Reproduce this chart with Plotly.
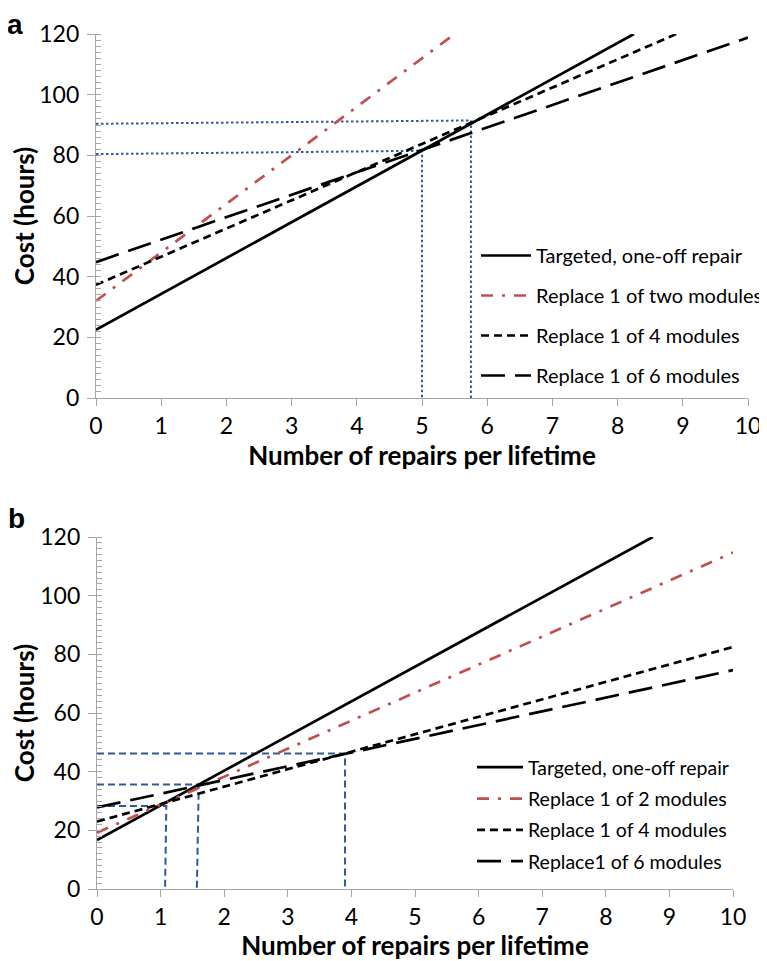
import plotly.graph_objects as go

# ---------------- Data ----------------
x_ticks = [0, 1, 2, 3, 4, 5, 6, 7, 8, 9, 10]
y_ticks = [0, 20, 40, 60, 80, 100, 120]

# Panel a
a_names = ["Targeted, one-off repair", "Replace 1 of two modules",
           "Replace 1 of 4 modules", "Replace 1 of 6 modules"]
a_targeted_x = [0, 8.25]
a_targeted_y = [22.5, 120]
a_two_x = [0, 5.5]
a_two_y = [32, 120]
a_four_x = [0, 8.9]
a_four_y = [37.3, 120]
a_six_x = [0, 10]
a_six_y = [44.8, 118.8]
# guide lines (blue dotted)
a_guide1_x = [0, 5.75, 5.75]
a_guide1_y = [90.4, 91.5, 0]
a_guide2_x = [0, 5.0, 5.0]
a_guide2_y = [80.4, 81.5, 0]

# Panel b
b_names = ["Targeted, one-off repair", "Replace 1 of 2 modules",
           "Replace 1 of 4 modules", "Replace1 of 6 modules"]
b_targeted_x = [0, 8.74]
b_targeted_y = [16.7, 120]
b_two_x = [0, 10]
b_two_y = [19.2, 114.7]
b_four_x = [0, 10]
b_four_y = [23.0, 82.5]
b_six_x = [0, 10]
b_six_y = [27.8, 74.6]
# guide lines (blue dashed)
b_guide1_x = [0, 3.9, 3.9]
b_guide1_y = [46.2, 46.2, 0]
b_guide2_x = [0, 1.6, 1.57]
b_guide2_y = [35.6, 35.6, 0]
b_guide3_x = [0, 1.09, 1.07]
b_guide3_y = [28.3, 28.3, 0]

# ---------------- Styles ----------------
FONT = "Lato"
BLACK = "#000000"
RED = "#C0504D"
BLUE = "#2E5A9C"
AXIS_GREY = "#A6A6A6"
LW = 2.7

styles = [
    dict(color=BLACK, dash="solid"),
    dict(color=RED, dash="12px,9px,3px,9px"),
    dict(color=BLACK, dash="8px,5px"),
    dict(color=BLACK, dash="24px,10px"),
]

fig = go.Figure()

a_series = [(a_targeted_x, a_targeted_y), (a_two_x, a_two_y),
            (a_four_x, a_four_y), (a_six_x, a_six_y)]
b_series = [(b_targeted_x, b_targeted_y), (b_two_x, b_two_y),
            (b_four_x, b_four_y), (b_six_x, b_six_y)]

for gx, gy in [(a_guide1_x, a_guide1_y), (a_guide2_x, a_guide2_y)]:
    fig.add_trace(go.Scatter(x=gx, y=gy, mode="lines", showlegend=False,
                             line=dict(color=BLUE, width=2, dash="2.5px,2.5px"),
                             xaxis="x", yaxis="y", hoverinfo="skip"))
for gx, gy in [(b_guide1_x, b_guide1_y), (b_guide2_x, b_guide2_y),
               (b_guide3_x, b_guide3_y)]:
    fig.add_trace(go.Scatter(x=gx, y=gy, mode="lines", showlegend=False,
                             line=dict(color=BLUE, width=2, dash="7px,4px"),
                             xaxis="x2", yaxis="y2", hoverinfo="skip"))

for i, ((sx, sy), name) in enumerate(zip(a_series, a_names)):
    fig.add_trace(go.Scatter(x=sx, y=sy, mode="lines", name=name,
                             line=dict(width=LW, **styles[i]),
                             legendgroup=f"a{i}", legend="legend",
                             xaxis="x", yaxis="y"))
for i, ((sx, sy), name) in enumerate(zip(b_series, b_names)):
    fig.add_trace(go.Scatter(x=sx, y=sy, mode="lines", name=name,
                             line=dict(width=LW, **styles[i]),
                             legendgroup=f"b{i}", legend="legend2",
                             xaxis="x2", yaxis="y2"))

# The page body has an 8px default margin, so the figure starts at (8, 8)
OFF = 8
W, H = 767 - OFF, 961 - OFF


def px(x):  # screen x -> paper x
    return (x - OFF) / W


def py(y):  # screen y -> paper y
    return 1 - (y - OFF) / H


def xax(domain, anchor):
    return dict(domain=domain, anchor=anchor, range=[0, 10], tickvals=x_ticks,
                automargin=False,
                showline=True, linecolor=AXIS_GREY, linewidth=1.3,
                ticks="outside", ticklen=7, tickcolor=AXIS_GREY, tickwidth=1.3,
                showgrid=False, zeroline=False,
                tickfont=dict(family=FONT, size=23, color=BLACK),
                ticklabelstandoff=0,
                title=dict(text="<b>Number of repairs per lifetime</b>",
                           font=dict(family=FONT, size=26, color=BLACK),
                           standoff=6))


def yax(domain, anchor):
    return dict(domain=domain, anchor=anchor, range=[0, 120], tickvals=y_ticks,
                automargin=False,
                showline=True, linecolor=AXIS_GREY, linewidth=1.3,
                ticks="outside", ticklen=8, tickcolor=AXIS_GREY, tickwidth=1.3,
                minor=dict(dtick=2, ticks="inside", ticklen=5,
                           tickcolor=AXIS_GREY, tickwidth=1),
                showgrid=False, zeroline=False,
                tickfont=dict(family=FONT, size=23, color=BLACK),
                ticklabelstandoff=3,
                title=dict(text="<b>Cost (hours)</b>",
                           font=dict(family=FONT, size=26, color=BLACK),
                           standoff=6))


fig.update_layout(
    width=W, height=H,
    margin=dict(l=0, r=0, t=0, b=0, autoexpand=False),
    paper_bgcolor="white", plot_bgcolor="white",
    font=dict(family=FONT, color=BLACK),
    xaxis=xax([px(96), px(748)], "y"),
    yaxis=yax([py(398), py(34)], "x"),
    xaxis2=xax([px(97), px(733)], "y2"),
    yaxis2=yax([py(889), py(537)], "x2"),
    legend=dict(x=px(476), y=py(236), xanchor="left", yanchor="top",
                traceorder="grouped", tracegroupgap=11, itemwidth=50,
                font=dict(family=FONT, size=20, color=BLACK),
                bgcolor="rgba(0,0,0,0)"),
    legend2=dict(x=px(472), y=py(748), xanchor="left", yanchor="top",
                 traceorder="grouped", tracegroupgap=3, itemwidth=46,
                 font=dict(family=FONT, size=19.5, color=BLACK),
                 bgcolor="rgba(0,0,0,0)"),
    annotations=[
        dict(text="<b>a</b>", x=px(6), y=1, xref="paper", yref="paper",
             xanchor="left", yanchor="top", showarrow=False, borderpad=0,
             font=dict(family="Liberation Sans", size=28, color=BLACK)),
        dict(text="<b>b</b>", x=px(6), y=py(501), xref="paper", yref="paper",
             xanchor="left", yanchor="top", showarrow=False,
             font=dict(family="Liberation Sans", size=28, color=BLACK)),
    ],
)

fig.write_html("out.html")
